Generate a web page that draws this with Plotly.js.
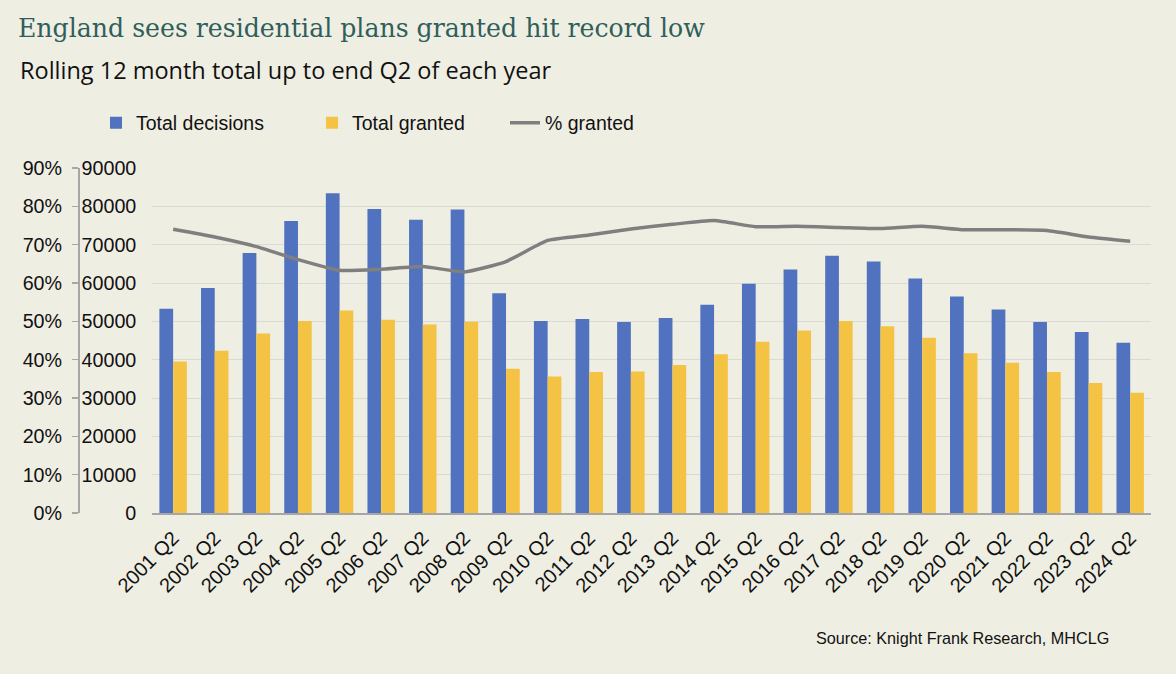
<!DOCTYPE html>
<html>
<head>
<meta charset="utf-8">
<script src="https://cdn.plot.ly/plotly-3.0.1.min.js"></script>
<style>
  html, body { margin: 0; padding: 0; background: #EFEEE3; }
  #chart { width: 1176px; height: 674px; }
</style>
</head>
<body>
<div id="chart"></div>
<script>
const categories = ["2001 Q2","2002 Q2","2003 Q2","2004 Q2","2005 Q2","2006 Q2","2007 Q2","2008 Q2",
  "2009 Q2","2010 Q2","2011 Q2","2012 Q2","2013 Q2","2014 Q2","2015 Q2","2016 Q2","2017 Q2","2018 Q2",
  "2019 Q2","2020 Q2","2021 Q2","2022 Q2","2023 Q2","2024 Q2"];
const totalDecisions = [53300, 58700, 67800, 76200, 83400, 79300, 76500, 79200,
  57300, 50100, 50600, 49800, 50900, 54300, 59800, 63500, 67100, 65600,
  61200, 56500, 53100, 49800, 47200, 44400];
const totalGranted = [39500, 42300, 46800, 50100, 52800, 50400, 49200, 49900,
  37600, 35600, 36800, 36900, 38600, 41400, 44700, 47600, 50100, 48700,
  45700, 41700, 39200, 36800, 33900, 31400];
const pctGranted = [0.740, 0.720, 0.695, 0.661, 0.633, 0.636, 0.643, 0.629,
  0.656, 0.711, 0.725, 0.741, 0.753, 0.763, 0.747, 0.748, 0.745, 0.742,
  0.748, 0.739, 0.739, 0.737, 0.720, 0.709];
const numTicks = [0,10000,20000,30000,40000,50000,60000,70000,80000,90000];
const pctTicks = [0,0.1,0.2,0.3,0.4,0.5,0.6,0.7,0.8,0.9];
const pctTickText = ["0%","10%","20%","30%","40%","50%","60%","70%","80%","90%"];

const sans = "Liberation Sans, Arial, sans-serif";
const legendFont = { family: sans, size: 19.5, color: "#111" };

const traces = [
  { type: "bar", name: "Total decisions", x: categories, y: totalDecisions,
    marker: { color: "#5072BF" }, yaxis: "y", legend: "legend" },
  { type: "bar", name: "Total granted", x: categories, y: totalGranted,
    marker: { color: "#F4C343" }, yaxis: "y", legend: "legend2" },
  { type: "scatter", mode: "lines", name: "% granted", x: categories, y: pctGranted,
    line: { color: "#7F7F7F", width: 3.5, shape: "spline", smoothing: 0.5 }, yaxis: "y2",
    legend: "legend3" }
];

function leg(xp) {
  return { orientation: "h", x: xp, xanchor: "left", y: 1.13, yanchor: "middle",
    font: legendFont, bgcolor: "rgba(0,0,0,0)" };
}

const layout = {
  width: 1176, height: 674,
  paper_bgcolor: "#EFEEE3", plot_bgcolor: "#EFEEE3",
  margin: { l: 20, r: 25, t: 168, b: 161 },
  barmode: "group", bargap: 0.34, bargroupgap: 0,
  title: {
    text: "England sees residential plans granted hit record low",
    font: { family: "DejaVu Serif, serif", size: 25.2, color: "#2F5F5B" },
    xref: "container", x: 0.0153, xanchor: "left",
    yref: "container", y: 0.958, yanchor: "middle"
  },
  showlegend: true,
  legend: leg(0.0672),
  legend2: leg(0.2582),
  legend3: leg(0.4288),
  xaxis: {
    domain: [0.117, 1],
    type: "category",
    tickangle: -45,
    tickfont: { family: sans, size: 20, color: "#111" },
    showline: true, linecolor: "#A6A6A6", linewidth: 1.5,
    ticks: "", showgrid: false, zeroline: false, ticklabelstandoff: 4
  },
  yaxis: {
    range: [0, 90000], tickvals: numTicks, ticktext: numTicks.map(String),
    tickfont: { family: sans, size: 19.7, color: "#111" },
    showgrid: true, gridcolor: "#D9D9D6", gridwidth: 1,
    zeroline: false, showline: false, ticks: "", ticklabelstandoff: 15
  },
  yaxis2: {
    overlaying: "y", side: "left", anchor: "free", position: 0.0513,
    range: [0, 0.9], tickvals: pctTicks, ticktext: pctTickText,
    tickfont: { family: sans, size: 19.7, color: "#111" },
    showgrid: false, zeroline: false,
    showline: true, linecolor: "#A6A6A6", linewidth: 1.5,
    ticks: "outside", ticklen: 6, tickcolor: "#A6A6A6", tickwidth: 1.5,
    ticklabelstandoff: 6
  },
  annotations: [
    { text: "Rolling 12 month total up to end Q2 of each year",
      xref: "paper", yref: "paper", x: -0.0018, y: 1.284, xanchor: "left", yanchor: "middle",
      showarrow: false, font: { family: "Open Sans, sans-serif", size: 23.5, color: "#111" } },
    { text: "Source: Knight Frank Research, MHCLG",
      xref: "paper", yref: "paper", x: 0.9645, y: -0.361, xanchor: "right", yanchor: "middle",
      showarrow: false, font: { family: sans, size: 16.2, color: "#111" } }
  ]
};

Plotly.newPlot("chart", traces, layout, { displayModeBar: false, staticPlot: true });
</script>
</body>
</html>
